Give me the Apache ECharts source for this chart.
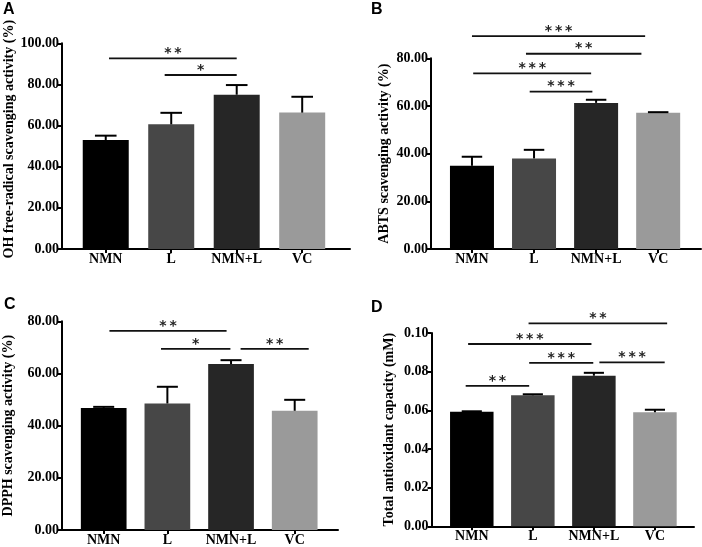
<!DOCTYPE html>
<html><head><meta charset="utf-8">
<script src="https://cdn.jsdelivr.net/npm/echarts@6/dist/echarts.min.js"></script>
<style>html,body{margin:0;padding:0;background:#fff}#c{width:702px;height:547px}</style>
</head><body><div id="c"></div>
<script>
// ---------- data ----------
const categories = ['NMN', 'L', 'NMN+L', 'VC'];
const barColors = ['#000000', '#474747', '#262626', '#9a9a9a'];
const panelLetters = ['A', 'B', 'C', 'D'];
const yTitles = ['OH free-radical scavenging activity (%)', 'ABTS scavenging activity (%)',
                 'DPPH scavenging activity (%)', 'Total antioxidant capacity (mM)'];
const yMaxes = [100, 80, 80, 0.10];
const yIntervals = [20, 20, 20, 0.02];

const ohValues = [53.0, 60.6, 75.0, 66.3];
const ohErrors = [2.1, 5.6, 4.7, 7.7];
const ohSig = [[0.05, 2.0, 92.7, '**'], [0.9, 2.0, 84.6, '*']];

const abtsValues = [34.9, 38.0, 61.3, 57.2];
const abtsErrors = [3.8, 3.6, 1.3, 0.2];
const abtsSig = [[0.0, 2.79, 89.3, '***'], [0.87, 2.73, 81.9, '**'], [0.02, 1.92, 73.7, '***'], [0.93, 1.94, 66.0, '***']];

const dpphValues = [46.8, 48.5, 63.6, 45.7];
const dpphErrors = [0.4, 6.4, 1.5, 4.2];
const dpphSig = [[0.09, 1.93, 76.3, '**'], [0.9, 1.99, 69.4, '*'], [2.15, 3.22, 69.4, '**']];

const taocValues = [0.0593, 0.0678, 0.0779, 0.0590];
const taocErrors = [0.0002, 0.0005, 0.0015, 0.0013];
const taocSig = [[0.93, 3.2, 0.1050, '**'], [-0.06, 1.96, 0.0943, '***'], [0.94, 1.99, 0.0845, '***'], [2.09, 3.16, 0.0848, '***'], [-0.1, 0.94, 0.0726, '**']];

const allValues = [ohValues, abtsValues, dpphValues, taocValues];
const allErrors = [ohErrors, abtsErrors, dpphErrors, taocErrors];
const allSig = [ohSig, abtsSig, dpphSig, taocSig];

// ---------- layout ----------
const grids = [
  { left: 62, top: 43.3, width: 288, height: 205.7 },
  { left: 431, top: 58.3, width: 270, height: 190.7 },
  { left: 60, top: 321.3, width: 278, height: 209.4 },
  { left: 431.5, top: 333, width: 262.5, height: 193.3 }
];
const xRanges = [[-0.668, 3.73], [-0.66, 3.69], [-0.655, 3.68], [-0.66, 3.64]];
const barWidths = [46, 44, 45.7, 43.5];
const nameGaps = [40, 40, 47, 35.5];
const namePads = [[0, 0, 0, 14], [0, 0, 0, 0], [0, 0, 0, 0], [0, 0, 0, 0]];
const letterPos = [[3, 2], [371, 2], [4, 297], [371, 300]];

const serif = '"Liberation Serif", "Times New Roman", serif';
const tickCat = [0, 1, 2, 3];

const option = {
  backgroundColor: '#fff',
  animation: false,
  title: panelLetters.map((t, i) => ({
    text: t, left: letterPos[i][0], top: letterPos[i][1], padding: 0,
    textStyle: { fontFamily: '"Liberation Sans", Arial, sans-serif', fontWeight: 'bold', fontSize: 16, color: '#000' }
  })),
  grid: grids,
  xAxis: grids.map((g, i) => ({
    type: 'value', gridIndex: i, min: xRanges[i][0], max: xRanges[i][1],
    splitLine: { show: false },
    axisLine: { show: true, onZero: false, lineStyle: { color: '#000', width: 2 } },
    axisTick: { show: true, customValues: tickCat, length: 4, lineStyle: { color: '#000', width: 2 } },
    axisLabel: {
      customValues: tickCat, margin: 3, color: '#000',
      fontFamily: serif, fontWeight: 'bold', fontSize: 14,
      formatter: v => categories[Math.round(v)]
    }
  })),
  yAxis: grids.map((g, i) => ({
    type: 'value', gridIndex: i, min: 0, max: yMaxes[i], interval: yIntervals[i],
    name: yTitles[i], nameLocation: 'middle', nameRotate: 90, nameGap: nameGaps[i],
    nameTextStyle: { fontFamily: serif, fontWeight: 'bold', fontSize: 14, color: '#000', padding: namePads[i] },
    splitLine: { show: false },
    axisLine: { show: true, onZero: false, lineStyle: { color: '#000', width: 2 } },
    axisTick: { show: true, length: 4, lineStyle: { color: '#000', width: 2 } },
    axisLabel: {
      margin: 3, color: '#000', fontFamily: serif, fontWeight: 'bold', fontSize: 14,
      formatter: v => v.toFixed(2)
    }
  })),
  series: []
};

allValues.forEach((vals, i) => {
  option.series.push({
    type: 'bar', xAxisIndex: i, yAxisIndex: i, barWidth: barWidths[i],
    data: vals.map((v, k) => ({ value: [k, v], itemStyle: { color: barColors[k] } }))
  });
  option.series.push({
    type: 'custom', xAxisIndex: i, yAxisIndex: i, z: 3,
    encode: { x: 0, y: [1, 2] },
    data: vals.map((v, k) => [k, v, allErrors[i][k]]),
    renderItem: (params, api) => {
      const x = api.value(0), v = api.value(1), e = api.value(2);
      const p1 = api.coord([x, v]);
      const p2 = api.coord([x, v + e]);
      const half = api.size([1, 0])[0] * 0.165;
      const st = { stroke: '#000', lineWidth: 2 };
      return { type: 'group', children: [
        { type: 'line', shape: { x1: p1[0], y1: p1[1], x2: p2[0], y2: p2[1] }, style: st },
        { type: 'line', shape: { x1: p2[0] - half, y1: p2[1], x2: p2[0] + half, y2: p2[1] }, style: st }
      ]};
    }
  });
  const sig = allSig[i];
  option.series.push({
    type: 'custom', xAxisIndex: i, yAxisIndex: i, z: 4, clip: false,
    encode: { x: [0, 1], y: 2 },
    data: sig.map(s => [s[0], s[1], s[2]]),
    renderItem: (params, api) => {
      const a = api.coord([api.value(0), api.value(2)]);
      const b = api.coord([api.value(1), api.value(2)]);
      const label = sig[params.dataIndex][3].split('').join('\u2009');
      return { type: 'group', children: [
        { type: 'line', shape: { x1: a[0], y1: a[1], x2: b[0], y2: b[1] }, style: { stroke: '#111', lineWidth: 1.8 } },
        { type: 'text', x: (a[0] + b[0]) / 2, y: a[1] - 5,
          style: { text: label, textAlign: 'center', textVerticalAlign: 'middle',
                   font: 'bold 14px "DejaVu Sans"', fill: '#222' } }
      ]};
    }
  });
});

const chart = echarts.init(document.getElementById('c'), null, { renderer: 'canvas' });
chart.setOption(option);
</script>
</body></html>
